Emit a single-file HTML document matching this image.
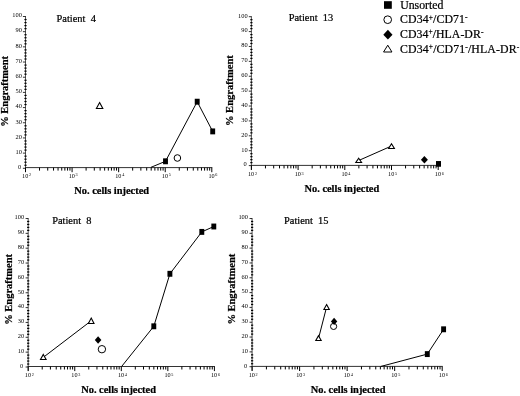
<!DOCTYPE html>
<html><head><meta charset="utf-8"><style>
html,body{margin:0;padding:0;background:#fff;width:520px;height:396px;overflow:hidden}
svg{display:block;filter:blur(0.3px)}
text{font-family:"Liberation Serif", serif;fill:#000}
.s{stroke:#000;stroke-width:0.22px}
</style></head><body>
<svg width="520" height="396" viewBox="0 0 520 396">
<rect width="520" height="396" fill="#fff"/>
<line x1="25.5" y1="16" x2="25.5" y2="171.8" stroke="#555" stroke-width="1"/>
<line x1="25" y1="167.6" x2="212.3" y2="167.6" stroke="#333" stroke-width="1"/>
<line x1="22.9" y1="168.3" x2="25.5" y2="168.3" stroke="#000" stroke-width="0.8"/>
<text x="21.1" y="169.1" text-anchor="end" font-size="6.4">0</text>
<line x1="24.4" y1="165.26" x2="26.6" y2="165.26" stroke="#000" stroke-width="1.2"/>
<line x1="24.4" y1="162.23" x2="26.6" y2="162.23" stroke="#000" stroke-width="1.2"/>
<line x1="24.4" y1="159.19" x2="26.6" y2="159.19" stroke="#000" stroke-width="1.2"/>
<line x1="24.4" y1="156.16" x2="26.6" y2="156.16" stroke="#000" stroke-width="1.2"/>
<line x1="22.9" y1="153.12" x2="25.5" y2="153.12" stroke="#000" stroke-width="0.8"/>
<text x="21.9" y="153.92" text-anchor="end" font-size="6.4">10</text>
<line x1="24.4" y1="150.08" x2="26.6" y2="150.08" stroke="#000" stroke-width="1.2"/>
<line x1="24.4" y1="147.05" x2="26.6" y2="147.05" stroke="#000" stroke-width="1.2"/>
<line x1="24.4" y1="144.01" x2="26.6" y2="144.01" stroke="#000" stroke-width="1.2"/>
<line x1="24.4" y1="140.98" x2="26.6" y2="140.98" stroke="#000" stroke-width="1.2"/>
<line x1="22.9" y1="137.94" x2="25.5" y2="137.94" stroke="#000" stroke-width="0.8"/>
<text x="21.9" y="138.74" text-anchor="end" font-size="6.4">20</text>
<line x1="24.4" y1="134.9" x2="26.6" y2="134.9" stroke="#000" stroke-width="1.2"/>
<line x1="24.4" y1="131.87" x2="26.6" y2="131.87" stroke="#000" stroke-width="1.2"/>
<line x1="24.4" y1="128.83" x2="26.6" y2="128.83" stroke="#000" stroke-width="1.2"/>
<line x1="24.4" y1="125.8" x2="26.6" y2="125.8" stroke="#000" stroke-width="1.2"/>
<line x1="22.9" y1="122.76" x2="25.5" y2="122.76" stroke="#000" stroke-width="0.8"/>
<text x="21.9" y="123.56" text-anchor="end" font-size="6.4">30</text>
<line x1="24.4" y1="119.72" x2="26.6" y2="119.72" stroke="#000" stroke-width="1.2"/>
<line x1="24.4" y1="116.69" x2="26.6" y2="116.69" stroke="#000" stroke-width="1.2"/>
<line x1="24.4" y1="113.65" x2="26.6" y2="113.65" stroke="#000" stroke-width="1.2"/>
<line x1="24.4" y1="110.62" x2="26.6" y2="110.62" stroke="#000" stroke-width="1.2"/>
<line x1="22.9" y1="107.58" x2="25.5" y2="107.58" stroke="#000" stroke-width="0.8"/>
<text x="21.9" y="108.38" text-anchor="end" font-size="6.4">40</text>
<line x1="24.4" y1="104.54" x2="26.6" y2="104.54" stroke="#000" stroke-width="1.2"/>
<line x1="24.4" y1="101.51" x2="26.6" y2="101.51" stroke="#000" stroke-width="1.2"/>
<line x1="24.4" y1="98.47" x2="26.6" y2="98.47" stroke="#000" stroke-width="1.2"/>
<line x1="24.4" y1="95.44" x2="26.6" y2="95.44" stroke="#000" stroke-width="1.2"/>
<line x1="22.9" y1="92.4" x2="25.5" y2="92.4" stroke="#000" stroke-width="0.8"/>
<text x="21.9" y="93.2" text-anchor="end" font-size="6.4">50</text>
<line x1="24.4" y1="89.36" x2="26.6" y2="89.36" stroke="#000" stroke-width="1.2"/>
<line x1="24.4" y1="86.33" x2="26.6" y2="86.33" stroke="#000" stroke-width="1.2"/>
<line x1="24.4" y1="83.29" x2="26.6" y2="83.29" stroke="#000" stroke-width="1.2"/>
<line x1="24.4" y1="80.26" x2="26.6" y2="80.26" stroke="#000" stroke-width="1.2"/>
<line x1="22.9" y1="77.22" x2="25.5" y2="77.22" stroke="#000" stroke-width="0.8"/>
<text x="21.9" y="78.02" text-anchor="end" font-size="6.4">60</text>
<line x1="24.4" y1="74.18" x2="26.6" y2="74.18" stroke="#000" stroke-width="1.2"/>
<line x1="24.4" y1="71.15" x2="26.6" y2="71.15" stroke="#000" stroke-width="1.2"/>
<line x1="24.4" y1="68.11" x2="26.6" y2="68.11" stroke="#000" stroke-width="1.2"/>
<line x1="24.4" y1="65.08" x2="26.6" y2="65.08" stroke="#000" stroke-width="1.2"/>
<line x1="22.9" y1="62.04" x2="25.5" y2="62.04" stroke="#000" stroke-width="0.8"/>
<text x="21.9" y="62.84" text-anchor="end" font-size="6.4">70</text>
<line x1="24.4" y1="59" x2="26.6" y2="59" stroke="#000" stroke-width="1.2"/>
<line x1="24.4" y1="55.97" x2="26.6" y2="55.97" stroke="#000" stroke-width="1.2"/>
<line x1="24.4" y1="52.93" x2="26.6" y2="52.93" stroke="#000" stroke-width="1.2"/>
<line x1="24.4" y1="49.9" x2="26.6" y2="49.9" stroke="#000" stroke-width="1.2"/>
<line x1="22.9" y1="46.86" x2="25.5" y2="46.86" stroke="#000" stroke-width="0.8"/>
<text x="21.9" y="47.66" text-anchor="end" font-size="6.4">80</text>
<line x1="24.4" y1="43.82" x2="26.6" y2="43.82" stroke="#000" stroke-width="1.2"/>
<line x1="24.4" y1="40.79" x2="26.6" y2="40.79" stroke="#000" stroke-width="1.2"/>
<line x1="24.4" y1="37.75" x2="26.6" y2="37.75" stroke="#000" stroke-width="1.2"/>
<line x1="24.4" y1="34.72" x2="26.6" y2="34.72" stroke="#000" stroke-width="1.2"/>
<line x1="22.9" y1="31.68" x2="25.5" y2="31.68" stroke="#000" stroke-width="0.8"/>
<text x="21.9" y="32.48" text-anchor="end" font-size="6.4">90</text>
<line x1="24.4" y1="28.64" x2="26.6" y2="28.64" stroke="#000" stroke-width="1.2"/>
<line x1="24.4" y1="25.61" x2="26.6" y2="25.61" stroke="#000" stroke-width="1.2"/>
<line x1="24.4" y1="22.57" x2="26.6" y2="22.57" stroke="#000" stroke-width="1.2"/>
<line x1="24.4" y1="19.54" x2="26.6" y2="19.54" stroke="#000" stroke-width="1.2"/>
<line x1="22.9" y1="16.5" x2="25.5" y2="16.5" stroke="#000" stroke-width="0.8"/>
<text x="21.9" y="17.3" text-anchor="end" font-size="6.4">100</text>
<line x1="39.52" y1="167.6" x2="39.52" y2="170.6" stroke="#000" stroke-width="1"/>
<line x1="47.72" y1="167.6" x2="47.72" y2="170.6" stroke="#000" stroke-width="1"/>
<line x1="53.54" y1="167.6" x2="53.54" y2="170.6" stroke="#000" stroke-width="1"/>
<line x1="58.05" y1="167.6" x2="58.05" y2="170.6" stroke="#000" stroke-width="1"/>
<line x1="61.74" y1="167.6" x2="61.74" y2="170.6" stroke="#000" stroke-width="1"/>
<line x1="64.86" y1="167.6" x2="64.86" y2="170.6" stroke="#000" stroke-width="1"/>
<line x1="67.56" y1="167.6" x2="67.56" y2="170.6" stroke="#000" stroke-width="1"/>
<line x1="69.94" y1="167.6" x2="69.94" y2="170.6" stroke="#000" stroke-width="1"/>
<line x1="86.1" y1="167.6" x2="86.1" y2="170.6" stroke="#000" stroke-width="1"/>
<line x1="94.3" y1="167.6" x2="94.3" y2="170.6" stroke="#000" stroke-width="1"/>
<line x1="100.12" y1="167.6" x2="100.12" y2="170.6" stroke="#000" stroke-width="1"/>
<line x1="104.63" y1="167.6" x2="104.63" y2="170.6" stroke="#000" stroke-width="1"/>
<line x1="108.32" y1="167.6" x2="108.32" y2="170.6" stroke="#000" stroke-width="1"/>
<line x1="111.44" y1="167.6" x2="111.44" y2="170.6" stroke="#000" stroke-width="1"/>
<line x1="114.14" y1="167.6" x2="114.14" y2="170.6" stroke="#000" stroke-width="1"/>
<line x1="116.52" y1="167.6" x2="116.52" y2="170.6" stroke="#000" stroke-width="1"/>
<line x1="132.67" y1="167.6" x2="132.67" y2="170.6" stroke="#000" stroke-width="1"/>
<line x1="140.87" y1="167.6" x2="140.87" y2="170.6" stroke="#000" stroke-width="1"/>
<line x1="146.69" y1="167.6" x2="146.69" y2="170.6" stroke="#000" stroke-width="1"/>
<line x1="151.2" y1="167.6" x2="151.2" y2="170.6" stroke="#000" stroke-width="1"/>
<line x1="154.89" y1="167.6" x2="154.89" y2="170.6" stroke="#000" stroke-width="1"/>
<line x1="158.01" y1="167.6" x2="158.01" y2="170.6" stroke="#000" stroke-width="1"/>
<line x1="160.71" y1="167.6" x2="160.71" y2="170.6" stroke="#000" stroke-width="1"/>
<line x1="163.09" y1="167.6" x2="163.09" y2="170.6" stroke="#000" stroke-width="1"/>
<line x1="179.25" y1="167.6" x2="179.25" y2="170.6" stroke="#000" stroke-width="1"/>
<line x1="187.45" y1="167.6" x2="187.45" y2="170.6" stroke="#000" stroke-width="1"/>
<line x1="193.27" y1="167.6" x2="193.27" y2="170.6" stroke="#000" stroke-width="1"/>
<line x1="197.78" y1="167.6" x2="197.78" y2="170.6" stroke="#000" stroke-width="1"/>
<line x1="201.47" y1="167.6" x2="201.47" y2="170.6" stroke="#000" stroke-width="1"/>
<line x1="204.59" y1="167.6" x2="204.59" y2="170.6" stroke="#000" stroke-width="1"/>
<line x1="207.29" y1="167.6" x2="207.29" y2="170.6" stroke="#000" stroke-width="1"/>
<line x1="209.67" y1="167.6" x2="209.67" y2="170.6" stroke="#000" stroke-width="1"/>
<line x1="25.5" y1="167.6" x2="25.5" y2="172.2" stroke="#000" stroke-width="1"/>
<text x="25.2" y="177.8" text-anchor="middle" font-size="6.2">10</text>
<text x="29" y="176.3" font-size="4.2">2</text>
<line x1="72.08" y1="167.6" x2="72.08" y2="172.2" stroke="#000" stroke-width="1"/>
<text x="71.78" y="177.8" text-anchor="middle" font-size="6.2">10</text>
<text x="75.58" y="176.3" font-size="4.2">3</text>
<line x1="118.65" y1="167.6" x2="118.65" y2="172.2" stroke="#000" stroke-width="1"/>
<text x="118.35" y="177.8" text-anchor="middle" font-size="6.2">10</text>
<text x="122.15" y="176.3" font-size="4.2">4</text>
<line x1="165.23" y1="167.6" x2="165.23" y2="172.2" stroke="#000" stroke-width="1"/>
<text x="164.93" y="177.8" text-anchor="middle" font-size="6.2">10</text>
<text x="168.73" y="176.3" font-size="4.2">5</text>
<line x1="211.8" y1="167.6" x2="211.8" y2="172.2" stroke="#000" stroke-width="1"/>
<text x="211.5" y="177.8" text-anchor="middle" font-size="6.2">10</text>
<text x="215.3" y="176.3" font-size="4.2">6</text>
<text x="56.6" y="22.2" font-size="10.4" class="s" xml:space="preserve">Patient  4</text>
<text x="74.3" y="193.5" font-size="10.4" class="s" font-weight="bold">No. cells injected</text>
<text transform="translate(8.1,126.8) rotate(-90)" class="s" font-size="10.5" font-weight="bold">% Engraftment</text>
<line x1="251.4" y1="16.2" x2="251.4" y2="169.6" stroke="#555" stroke-width="1"/>
<line x1="250.9" y1="165.4" x2="438.7" y2="165.4" stroke="#333" stroke-width="1"/>
<line x1="248.8" y1="165.6" x2="251.4" y2="165.6" stroke="#000" stroke-width="0.8"/>
<text x="246.8" y="166.4" text-anchor="end" font-size="6.4">0</text>
<line x1="250.3" y1="162.62" x2="252.5" y2="162.62" stroke="#000" stroke-width="1.2"/>
<line x1="250.3" y1="159.64" x2="252.5" y2="159.64" stroke="#000" stroke-width="1.2"/>
<line x1="250.3" y1="156.67" x2="252.5" y2="156.67" stroke="#000" stroke-width="1.2"/>
<line x1="250.3" y1="153.69" x2="252.5" y2="153.69" stroke="#000" stroke-width="1.2"/>
<line x1="248.8" y1="150.71" x2="251.4" y2="150.71" stroke="#000" stroke-width="0.8"/>
<text x="247.6" y="151.51" text-anchor="end" font-size="6.4">10</text>
<line x1="250.3" y1="147.73" x2="252.5" y2="147.73" stroke="#000" stroke-width="1.2"/>
<line x1="250.3" y1="144.75" x2="252.5" y2="144.75" stroke="#000" stroke-width="1.2"/>
<line x1="250.3" y1="141.78" x2="252.5" y2="141.78" stroke="#000" stroke-width="1.2"/>
<line x1="250.3" y1="138.8" x2="252.5" y2="138.8" stroke="#000" stroke-width="1.2"/>
<line x1="248.8" y1="135.82" x2="251.4" y2="135.82" stroke="#000" stroke-width="0.8"/>
<text x="247.6" y="136.62" text-anchor="end" font-size="6.4">20</text>
<line x1="250.3" y1="132.84" x2="252.5" y2="132.84" stroke="#000" stroke-width="1.2"/>
<line x1="250.3" y1="129.86" x2="252.5" y2="129.86" stroke="#000" stroke-width="1.2"/>
<line x1="250.3" y1="126.89" x2="252.5" y2="126.89" stroke="#000" stroke-width="1.2"/>
<line x1="250.3" y1="123.91" x2="252.5" y2="123.91" stroke="#000" stroke-width="1.2"/>
<line x1="248.8" y1="120.93" x2="251.4" y2="120.93" stroke="#000" stroke-width="0.8"/>
<text x="247.6" y="121.73" text-anchor="end" font-size="6.4">30</text>
<line x1="250.3" y1="117.95" x2="252.5" y2="117.95" stroke="#000" stroke-width="1.2"/>
<line x1="250.3" y1="114.97" x2="252.5" y2="114.97" stroke="#000" stroke-width="1.2"/>
<line x1="250.3" y1="112" x2="252.5" y2="112" stroke="#000" stroke-width="1.2"/>
<line x1="250.3" y1="109.02" x2="252.5" y2="109.02" stroke="#000" stroke-width="1.2"/>
<line x1="248.8" y1="106.04" x2="251.4" y2="106.04" stroke="#000" stroke-width="0.8"/>
<text x="247.6" y="106.84" text-anchor="end" font-size="6.4">40</text>
<line x1="250.3" y1="103.06" x2="252.5" y2="103.06" stroke="#000" stroke-width="1.2"/>
<line x1="250.3" y1="100.08" x2="252.5" y2="100.08" stroke="#000" stroke-width="1.2"/>
<line x1="250.3" y1="97.11" x2="252.5" y2="97.11" stroke="#000" stroke-width="1.2"/>
<line x1="250.3" y1="94.13" x2="252.5" y2="94.13" stroke="#000" stroke-width="1.2"/>
<line x1="248.8" y1="91.15" x2="251.4" y2="91.15" stroke="#000" stroke-width="0.8"/>
<text x="247.6" y="91.95" text-anchor="end" font-size="6.4">50</text>
<line x1="250.3" y1="88.17" x2="252.5" y2="88.17" stroke="#000" stroke-width="1.2"/>
<line x1="250.3" y1="85.19" x2="252.5" y2="85.19" stroke="#000" stroke-width="1.2"/>
<line x1="250.3" y1="82.22" x2="252.5" y2="82.22" stroke="#000" stroke-width="1.2"/>
<line x1="250.3" y1="79.24" x2="252.5" y2="79.24" stroke="#000" stroke-width="1.2"/>
<line x1="248.8" y1="76.26" x2="251.4" y2="76.26" stroke="#000" stroke-width="0.8"/>
<text x="247.6" y="77.06" text-anchor="end" font-size="6.4">60</text>
<line x1="250.3" y1="73.28" x2="252.5" y2="73.28" stroke="#000" stroke-width="1.2"/>
<line x1="250.3" y1="70.3" x2="252.5" y2="70.3" stroke="#000" stroke-width="1.2"/>
<line x1="250.3" y1="67.33" x2="252.5" y2="67.33" stroke="#000" stroke-width="1.2"/>
<line x1="250.3" y1="64.35" x2="252.5" y2="64.35" stroke="#000" stroke-width="1.2"/>
<line x1="248.8" y1="61.37" x2="251.4" y2="61.37" stroke="#000" stroke-width="0.8"/>
<text x="247.6" y="62.17" text-anchor="end" font-size="6.4">70</text>
<line x1="250.3" y1="58.39" x2="252.5" y2="58.39" stroke="#000" stroke-width="1.2"/>
<line x1="250.3" y1="55.41" x2="252.5" y2="55.41" stroke="#000" stroke-width="1.2"/>
<line x1="250.3" y1="52.44" x2="252.5" y2="52.44" stroke="#000" stroke-width="1.2"/>
<line x1="250.3" y1="49.46" x2="252.5" y2="49.46" stroke="#000" stroke-width="1.2"/>
<line x1="248.8" y1="46.48" x2="251.4" y2="46.48" stroke="#000" stroke-width="0.8"/>
<text x="247.6" y="47.28" text-anchor="end" font-size="6.4">80</text>
<line x1="250.3" y1="43.5" x2="252.5" y2="43.5" stroke="#000" stroke-width="1.2"/>
<line x1="250.3" y1="40.52" x2="252.5" y2="40.52" stroke="#000" stroke-width="1.2"/>
<line x1="250.3" y1="37.55" x2="252.5" y2="37.55" stroke="#000" stroke-width="1.2"/>
<line x1="250.3" y1="34.57" x2="252.5" y2="34.57" stroke="#000" stroke-width="1.2"/>
<line x1="248.8" y1="31.59" x2="251.4" y2="31.59" stroke="#000" stroke-width="0.8"/>
<text x="247.6" y="32.39" text-anchor="end" font-size="6.4">90</text>
<line x1="250.3" y1="28.61" x2="252.5" y2="28.61" stroke="#000" stroke-width="1.2"/>
<line x1="250.3" y1="25.63" x2="252.5" y2="25.63" stroke="#000" stroke-width="1.2"/>
<line x1="250.3" y1="22.66" x2="252.5" y2="22.66" stroke="#000" stroke-width="1.2"/>
<line x1="250.3" y1="19.68" x2="252.5" y2="19.68" stroke="#000" stroke-width="1.2"/>
<line x1="248.8" y1="16.7" x2="251.4" y2="16.7" stroke="#000" stroke-width="0.8"/>
<text x="247.6" y="17.5" text-anchor="end" font-size="6.4">100</text>
<line x1="265.46" y1="165.4" x2="265.46" y2="168.4" stroke="#000" stroke-width="1"/>
<line x1="273.68" y1="165.4" x2="273.68" y2="168.4" stroke="#000" stroke-width="1"/>
<line x1="279.52" y1="165.4" x2="279.52" y2="168.4" stroke="#000" stroke-width="1"/>
<line x1="284.04" y1="165.4" x2="284.04" y2="168.4" stroke="#000" stroke-width="1"/>
<line x1="287.74" y1="165.4" x2="287.74" y2="168.4" stroke="#000" stroke-width="1"/>
<line x1="290.87" y1="165.4" x2="290.87" y2="168.4" stroke="#000" stroke-width="1"/>
<line x1="293.57" y1="165.4" x2="293.57" y2="168.4" stroke="#000" stroke-width="1"/>
<line x1="295.96" y1="165.4" x2="295.96" y2="168.4" stroke="#000" stroke-width="1"/>
<line x1="312.16" y1="165.4" x2="312.16" y2="168.4" stroke="#000" stroke-width="1"/>
<line x1="320.38" y1="165.4" x2="320.38" y2="168.4" stroke="#000" stroke-width="1"/>
<line x1="326.22" y1="165.4" x2="326.22" y2="168.4" stroke="#000" stroke-width="1"/>
<line x1="330.74" y1="165.4" x2="330.74" y2="168.4" stroke="#000" stroke-width="1"/>
<line x1="334.44" y1="165.4" x2="334.44" y2="168.4" stroke="#000" stroke-width="1"/>
<line x1="337.57" y1="165.4" x2="337.57" y2="168.4" stroke="#000" stroke-width="1"/>
<line x1="340.27" y1="165.4" x2="340.27" y2="168.4" stroke="#000" stroke-width="1"/>
<line x1="342.66" y1="165.4" x2="342.66" y2="168.4" stroke="#000" stroke-width="1"/>
<line x1="358.86" y1="165.4" x2="358.86" y2="168.4" stroke="#000" stroke-width="1"/>
<line x1="367.08" y1="165.4" x2="367.08" y2="168.4" stroke="#000" stroke-width="1"/>
<line x1="372.92" y1="165.4" x2="372.92" y2="168.4" stroke="#000" stroke-width="1"/>
<line x1="377.44" y1="165.4" x2="377.44" y2="168.4" stroke="#000" stroke-width="1"/>
<line x1="381.14" y1="165.4" x2="381.14" y2="168.4" stroke="#000" stroke-width="1"/>
<line x1="384.27" y1="165.4" x2="384.27" y2="168.4" stroke="#000" stroke-width="1"/>
<line x1="386.97" y1="165.4" x2="386.97" y2="168.4" stroke="#000" stroke-width="1"/>
<line x1="389.36" y1="165.4" x2="389.36" y2="168.4" stroke="#000" stroke-width="1"/>
<line x1="405.56" y1="165.4" x2="405.56" y2="168.4" stroke="#000" stroke-width="1"/>
<line x1="413.78" y1="165.4" x2="413.78" y2="168.4" stroke="#000" stroke-width="1"/>
<line x1="419.62" y1="165.4" x2="419.62" y2="168.4" stroke="#000" stroke-width="1"/>
<line x1="424.14" y1="165.4" x2="424.14" y2="168.4" stroke="#000" stroke-width="1"/>
<line x1="427.84" y1="165.4" x2="427.84" y2="168.4" stroke="#000" stroke-width="1"/>
<line x1="430.97" y1="165.4" x2="430.97" y2="168.4" stroke="#000" stroke-width="1"/>
<line x1="433.67" y1="165.4" x2="433.67" y2="168.4" stroke="#000" stroke-width="1"/>
<line x1="436.06" y1="165.4" x2="436.06" y2="168.4" stroke="#000" stroke-width="1"/>
<line x1="251.4" y1="165.4" x2="251.4" y2="170" stroke="#000" stroke-width="1"/>
<text x="251.1" y="176.3" text-anchor="middle" font-size="6.2">10</text>
<text x="254.9" y="174.8" font-size="4.2">2</text>
<line x1="298.1" y1="165.4" x2="298.1" y2="170" stroke="#000" stroke-width="1"/>
<text x="297.8" y="176.3" text-anchor="middle" font-size="6.2">10</text>
<text x="301.6" y="174.8" font-size="4.2">3</text>
<line x1="344.8" y1="165.4" x2="344.8" y2="170" stroke="#000" stroke-width="1"/>
<text x="344.5" y="176.3" text-anchor="middle" font-size="6.2">10</text>
<text x="348.3" y="174.8" font-size="4.2">4</text>
<line x1="391.5" y1="165.4" x2="391.5" y2="170" stroke="#000" stroke-width="1"/>
<text x="391.2" y="176.3" text-anchor="middle" font-size="6.2">10</text>
<text x="395" y="174.8" font-size="4.2">5</text>
<line x1="438.2" y1="165.4" x2="438.2" y2="170" stroke="#000" stroke-width="1"/>
<text x="437.9" y="176.3" text-anchor="middle" font-size="6.2">10</text>
<text x="441.7" y="174.8" font-size="4.2">6</text>
<text x="288.7" y="20.9" font-size="10.4" class="s" xml:space="preserve">Patient  13</text>
<text x="304.5" y="192.2" font-size="10.4" class="s" font-weight="bold">No. cells injected</text>
<text transform="translate(232.7,126) rotate(-90)" class="s" font-size="10.5" font-weight="bold">% Engraftment</text>
<line x1="28.2" y1="218" x2="28.2" y2="370.7" stroke="#555" stroke-width="1"/>
<line x1="27.7" y1="366.5" x2="214.9" y2="366.5" stroke="#333" stroke-width="1"/>
<line x1="25.6" y1="367" x2="28.2" y2="367" stroke="#000" stroke-width="0.8"/>
<text x="23.3" y="367.8" text-anchor="end" font-size="6.4">0</text>
<line x1="27.1" y1="364.03" x2="29.3" y2="364.03" stroke="#000" stroke-width="1.2"/>
<line x1="27.1" y1="361.06" x2="29.3" y2="361.06" stroke="#000" stroke-width="1.2"/>
<line x1="27.1" y1="358.09" x2="29.3" y2="358.09" stroke="#000" stroke-width="1.2"/>
<line x1="27.1" y1="355.12" x2="29.3" y2="355.12" stroke="#000" stroke-width="1.2"/>
<line x1="25.6" y1="352.15" x2="28.2" y2="352.15" stroke="#000" stroke-width="0.8"/>
<text x="24.1" y="352.95" text-anchor="end" font-size="6.4">10</text>
<line x1="27.1" y1="349.18" x2="29.3" y2="349.18" stroke="#000" stroke-width="1.2"/>
<line x1="27.1" y1="346.21" x2="29.3" y2="346.21" stroke="#000" stroke-width="1.2"/>
<line x1="27.1" y1="343.24" x2="29.3" y2="343.24" stroke="#000" stroke-width="1.2"/>
<line x1="27.1" y1="340.27" x2="29.3" y2="340.27" stroke="#000" stroke-width="1.2"/>
<line x1="25.6" y1="337.3" x2="28.2" y2="337.3" stroke="#000" stroke-width="0.8"/>
<text x="24.1" y="338.1" text-anchor="end" font-size="6.4">20</text>
<line x1="27.1" y1="334.33" x2="29.3" y2="334.33" stroke="#000" stroke-width="1.2"/>
<line x1="27.1" y1="331.36" x2="29.3" y2="331.36" stroke="#000" stroke-width="1.2"/>
<line x1="27.1" y1="328.39" x2="29.3" y2="328.39" stroke="#000" stroke-width="1.2"/>
<line x1="27.1" y1="325.42" x2="29.3" y2="325.42" stroke="#000" stroke-width="1.2"/>
<line x1="25.6" y1="322.45" x2="28.2" y2="322.45" stroke="#000" stroke-width="0.8"/>
<text x="24.1" y="323.25" text-anchor="end" font-size="6.4">30</text>
<line x1="27.1" y1="319.48" x2="29.3" y2="319.48" stroke="#000" stroke-width="1.2"/>
<line x1="27.1" y1="316.51" x2="29.3" y2="316.51" stroke="#000" stroke-width="1.2"/>
<line x1="27.1" y1="313.54" x2="29.3" y2="313.54" stroke="#000" stroke-width="1.2"/>
<line x1="27.1" y1="310.57" x2="29.3" y2="310.57" stroke="#000" stroke-width="1.2"/>
<line x1="25.6" y1="307.6" x2="28.2" y2="307.6" stroke="#000" stroke-width="0.8"/>
<text x="24.1" y="308.4" text-anchor="end" font-size="6.4">40</text>
<line x1="27.1" y1="304.63" x2="29.3" y2="304.63" stroke="#000" stroke-width="1.2"/>
<line x1="27.1" y1="301.66" x2="29.3" y2="301.66" stroke="#000" stroke-width="1.2"/>
<line x1="27.1" y1="298.69" x2="29.3" y2="298.69" stroke="#000" stroke-width="1.2"/>
<line x1="27.1" y1="295.72" x2="29.3" y2="295.72" stroke="#000" stroke-width="1.2"/>
<line x1="25.6" y1="292.75" x2="28.2" y2="292.75" stroke="#000" stroke-width="0.8"/>
<text x="24.1" y="293.55" text-anchor="end" font-size="6.4">50</text>
<line x1="27.1" y1="289.78" x2="29.3" y2="289.78" stroke="#000" stroke-width="1.2"/>
<line x1="27.1" y1="286.81" x2="29.3" y2="286.81" stroke="#000" stroke-width="1.2"/>
<line x1="27.1" y1="283.84" x2="29.3" y2="283.84" stroke="#000" stroke-width="1.2"/>
<line x1="27.1" y1="280.87" x2="29.3" y2="280.87" stroke="#000" stroke-width="1.2"/>
<line x1="25.6" y1="277.9" x2="28.2" y2="277.9" stroke="#000" stroke-width="0.8"/>
<text x="24.1" y="278.7" text-anchor="end" font-size="6.4">60</text>
<line x1="27.1" y1="274.93" x2="29.3" y2="274.93" stroke="#000" stroke-width="1.2"/>
<line x1="27.1" y1="271.96" x2="29.3" y2="271.96" stroke="#000" stroke-width="1.2"/>
<line x1="27.1" y1="268.99" x2="29.3" y2="268.99" stroke="#000" stroke-width="1.2"/>
<line x1="27.1" y1="266.02" x2="29.3" y2="266.02" stroke="#000" stroke-width="1.2"/>
<line x1="25.6" y1="263.05" x2="28.2" y2="263.05" stroke="#000" stroke-width="0.8"/>
<text x="24.1" y="263.85" text-anchor="end" font-size="6.4">70</text>
<line x1="27.1" y1="260.08" x2="29.3" y2="260.08" stroke="#000" stroke-width="1.2"/>
<line x1="27.1" y1="257.11" x2="29.3" y2="257.11" stroke="#000" stroke-width="1.2"/>
<line x1="27.1" y1="254.14" x2="29.3" y2="254.14" stroke="#000" stroke-width="1.2"/>
<line x1="27.1" y1="251.17" x2="29.3" y2="251.17" stroke="#000" stroke-width="1.2"/>
<line x1="25.6" y1="248.2" x2="28.2" y2="248.2" stroke="#000" stroke-width="0.8"/>
<text x="24.1" y="249" text-anchor="end" font-size="6.4">80</text>
<line x1="27.1" y1="245.23" x2="29.3" y2="245.23" stroke="#000" stroke-width="1.2"/>
<line x1="27.1" y1="242.26" x2="29.3" y2="242.26" stroke="#000" stroke-width="1.2"/>
<line x1="27.1" y1="239.29" x2="29.3" y2="239.29" stroke="#000" stroke-width="1.2"/>
<line x1="27.1" y1="236.32" x2="29.3" y2="236.32" stroke="#000" stroke-width="1.2"/>
<line x1="25.6" y1="233.35" x2="28.2" y2="233.35" stroke="#000" stroke-width="0.8"/>
<text x="24.1" y="234.15" text-anchor="end" font-size="6.4">90</text>
<line x1="27.1" y1="230.38" x2="29.3" y2="230.38" stroke="#000" stroke-width="1.2"/>
<line x1="27.1" y1="227.41" x2="29.3" y2="227.41" stroke="#000" stroke-width="1.2"/>
<line x1="27.1" y1="224.44" x2="29.3" y2="224.44" stroke="#000" stroke-width="1.2"/>
<line x1="27.1" y1="221.47" x2="29.3" y2="221.47" stroke="#000" stroke-width="1.2"/>
<line x1="25.6" y1="218.5" x2="28.2" y2="218.5" stroke="#000" stroke-width="0.8"/>
<text x="24.1" y="219.3" text-anchor="end" font-size="6.4">100</text>
<line x1="42.21" y1="366.5" x2="42.21" y2="369.5" stroke="#000" stroke-width="1"/>
<line x1="50.41" y1="366.5" x2="50.41" y2="369.5" stroke="#000" stroke-width="1"/>
<line x1="56.23" y1="366.5" x2="56.23" y2="369.5" stroke="#000" stroke-width="1"/>
<line x1="60.74" y1="366.5" x2="60.74" y2="369.5" stroke="#000" stroke-width="1"/>
<line x1="64.42" y1="366.5" x2="64.42" y2="369.5" stroke="#000" stroke-width="1"/>
<line x1="67.54" y1="366.5" x2="67.54" y2="369.5" stroke="#000" stroke-width="1"/>
<line x1="70.24" y1="366.5" x2="70.24" y2="369.5" stroke="#000" stroke-width="1"/>
<line x1="72.62" y1="366.5" x2="72.62" y2="369.5" stroke="#000" stroke-width="1"/>
<line x1="88.76" y1="366.5" x2="88.76" y2="369.5" stroke="#000" stroke-width="1"/>
<line x1="96.96" y1="366.5" x2="96.96" y2="369.5" stroke="#000" stroke-width="1"/>
<line x1="102.78" y1="366.5" x2="102.78" y2="369.5" stroke="#000" stroke-width="1"/>
<line x1="107.29" y1="366.5" x2="107.29" y2="369.5" stroke="#000" stroke-width="1"/>
<line x1="110.97" y1="366.5" x2="110.97" y2="369.5" stroke="#000" stroke-width="1"/>
<line x1="114.09" y1="366.5" x2="114.09" y2="369.5" stroke="#000" stroke-width="1"/>
<line x1="116.79" y1="366.5" x2="116.79" y2="369.5" stroke="#000" stroke-width="1"/>
<line x1="119.17" y1="366.5" x2="119.17" y2="369.5" stroke="#000" stroke-width="1"/>
<line x1="135.31" y1="366.5" x2="135.31" y2="369.5" stroke="#000" stroke-width="1"/>
<line x1="143.51" y1="366.5" x2="143.51" y2="369.5" stroke="#000" stroke-width="1"/>
<line x1="149.33" y1="366.5" x2="149.33" y2="369.5" stroke="#000" stroke-width="1"/>
<line x1="153.84" y1="366.5" x2="153.84" y2="369.5" stroke="#000" stroke-width="1"/>
<line x1="157.52" y1="366.5" x2="157.52" y2="369.5" stroke="#000" stroke-width="1"/>
<line x1="160.64" y1="366.5" x2="160.64" y2="369.5" stroke="#000" stroke-width="1"/>
<line x1="163.34" y1="366.5" x2="163.34" y2="369.5" stroke="#000" stroke-width="1"/>
<line x1="165.72" y1="366.5" x2="165.72" y2="369.5" stroke="#000" stroke-width="1"/>
<line x1="181.86" y1="366.5" x2="181.86" y2="369.5" stroke="#000" stroke-width="1"/>
<line x1="190.06" y1="366.5" x2="190.06" y2="369.5" stroke="#000" stroke-width="1"/>
<line x1="195.88" y1="366.5" x2="195.88" y2="369.5" stroke="#000" stroke-width="1"/>
<line x1="200.39" y1="366.5" x2="200.39" y2="369.5" stroke="#000" stroke-width="1"/>
<line x1="204.07" y1="366.5" x2="204.07" y2="369.5" stroke="#000" stroke-width="1"/>
<line x1="207.19" y1="366.5" x2="207.19" y2="369.5" stroke="#000" stroke-width="1"/>
<line x1="209.89" y1="366.5" x2="209.89" y2="369.5" stroke="#000" stroke-width="1"/>
<line x1="212.27" y1="366.5" x2="212.27" y2="369.5" stroke="#000" stroke-width="1"/>
<line x1="28.2" y1="366.5" x2="28.2" y2="371.1" stroke="#000" stroke-width="1"/>
<text x="27.9" y="377.4" text-anchor="middle" font-size="6.2">10</text>
<text x="31.7" y="375.9" font-size="4.2">2</text>
<line x1="74.75" y1="366.5" x2="74.75" y2="371.1" stroke="#000" stroke-width="1"/>
<text x="74.45" y="377.4" text-anchor="middle" font-size="6.2">10</text>
<text x="78.25" y="375.9" font-size="4.2">3</text>
<line x1="121.3" y1="366.5" x2="121.3" y2="371.1" stroke="#000" stroke-width="1"/>
<text x="121" y="377.4" text-anchor="middle" font-size="6.2">10</text>
<text x="124.8" y="375.9" font-size="4.2">4</text>
<line x1="167.85" y1="366.5" x2="167.85" y2="371.1" stroke="#000" stroke-width="1"/>
<text x="167.55" y="377.4" text-anchor="middle" font-size="6.2">10</text>
<text x="171.35" y="375.9" font-size="4.2">5</text>
<line x1="214.4" y1="366.5" x2="214.4" y2="371.1" stroke="#000" stroke-width="1"/>
<text x="214.1" y="377.4" text-anchor="middle" font-size="6.2">10</text>
<text x="217.9" y="375.9" font-size="4.2">6</text>
<text x="52.2" y="224.2" font-size="10.4" class="s" xml:space="preserve">Patient  8</text>
<text x="81.2" y="392.7" font-size="10.4" class="s" font-weight="bold">No. cells injected</text>
<text transform="translate(11.5,324.8) rotate(-90)" class="s" font-size="10.5" font-weight="bold">% Engraftment</text>
<line x1="252.1" y1="218" x2="252.1" y2="370.6" stroke="#555" stroke-width="1"/>
<line x1="251.6" y1="366.4" x2="442.7" y2="366.4" stroke="#333" stroke-width="1"/>
<line x1="249.5" y1="366.7" x2="252.1" y2="366.7" stroke="#000" stroke-width="0.8"/>
<text x="247.2" y="367.5" text-anchor="end" font-size="6.4">0</text>
<line x1="251" y1="363.74" x2="253.2" y2="363.74" stroke="#000" stroke-width="1.2"/>
<line x1="251" y1="360.77" x2="253.2" y2="360.77" stroke="#000" stroke-width="1.2"/>
<line x1="251" y1="357.81" x2="253.2" y2="357.81" stroke="#000" stroke-width="1.2"/>
<line x1="251" y1="354.84" x2="253.2" y2="354.84" stroke="#000" stroke-width="1.2"/>
<line x1="249.5" y1="351.88" x2="252.1" y2="351.88" stroke="#000" stroke-width="0.8"/>
<text x="248" y="352.68" text-anchor="end" font-size="6.4">10</text>
<line x1="251" y1="348.92" x2="253.2" y2="348.92" stroke="#000" stroke-width="1.2"/>
<line x1="251" y1="345.95" x2="253.2" y2="345.95" stroke="#000" stroke-width="1.2"/>
<line x1="251" y1="342.99" x2="253.2" y2="342.99" stroke="#000" stroke-width="1.2"/>
<line x1="251" y1="340.02" x2="253.2" y2="340.02" stroke="#000" stroke-width="1.2"/>
<line x1="249.5" y1="337.06" x2="252.1" y2="337.06" stroke="#000" stroke-width="0.8"/>
<text x="248" y="337.86" text-anchor="end" font-size="6.4">20</text>
<line x1="251" y1="334.1" x2="253.2" y2="334.1" stroke="#000" stroke-width="1.2"/>
<line x1="251" y1="331.13" x2="253.2" y2="331.13" stroke="#000" stroke-width="1.2"/>
<line x1="251" y1="328.17" x2="253.2" y2="328.17" stroke="#000" stroke-width="1.2"/>
<line x1="251" y1="325.2" x2="253.2" y2="325.2" stroke="#000" stroke-width="1.2"/>
<line x1="249.5" y1="322.24" x2="252.1" y2="322.24" stroke="#000" stroke-width="0.8"/>
<text x="248" y="323.04" text-anchor="end" font-size="6.4">30</text>
<line x1="251" y1="319.28" x2="253.2" y2="319.28" stroke="#000" stroke-width="1.2"/>
<line x1="251" y1="316.31" x2="253.2" y2="316.31" stroke="#000" stroke-width="1.2"/>
<line x1="251" y1="313.35" x2="253.2" y2="313.35" stroke="#000" stroke-width="1.2"/>
<line x1="251" y1="310.38" x2="253.2" y2="310.38" stroke="#000" stroke-width="1.2"/>
<line x1="249.5" y1="307.42" x2="252.1" y2="307.42" stroke="#000" stroke-width="0.8"/>
<text x="248" y="308.22" text-anchor="end" font-size="6.4">40</text>
<line x1="251" y1="304.46" x2="253.2" y2="304.46" stroke="#000" stroke-width="1.2"/>
<line x1="251" y1="301.49" x2="253.2" y2="301.49" stroke="#000" stroke-width="1.2"/>
<line x1="251" y1="298.53" x2="253.2" y2="298.53" stroke="#000" stroke-width="1.2"/>
<line x1="251" y1="295.56" x2="253.2" y2="295.56" stroke="#000" stroke-width="1.2"/>
<line x1="249.5" y1="292.6" x2="252.1" y2="292.6" stroke="#000" stroke-width="0.8"/>
<text x="248" y="293.4" text-anchor="end" font-size="6.4">50</text>
<line x1="251" y1="289.64" x2="253.2" y2="289.64" stroke="#000" stroke-width="1.2"/>
<line x1="251" y1="286.67" x2="253.2" y2="286.67" stroke="#000" stroke-width="1.2"/>
<line x1="251" y1="283.71" x2="253.2" y2="283.71" stroke="#000" stroke-width="1.2"/>
<line x1="251" y1="280.74" x2="253.2" y2="280.74" stroke="#000" stroke-width="1.2"/>
<line x1="249.5" y1="277.78" x2="252.1" y2="277.78" stroke="#000" stroke-width="0.8"/>
<text x="248" y="278.58" text-anchor="end" font-size="6.4">60</text>
<line x1="251" y1="274.82" x2="253.2" y2="274.82" stroke="#000" stroke-width="1.2"/>
<line x1="251" y1="271.85" x2="253.2" y2="271.85" stroke="#000" stroke-width="1.2"/>
<line x1="251" y1="268.89" x2="253.2" y2="268.89" stroke="#000" stroke-width="1.2"/>
<line x1="251" y1="265.92" x2="253.2" y2="265.92" stroke="#000" stroke-width="1.2"/>
<line x1="249.5" y1="262.96" x2="252.1" y2="262.96" stroke="#000" stroke-width="0.8"/>
<text x="248" y="263.76" text-anchor="end" font-size="6.4">70</text>
<line x1="251" y1="260" x2="253.2" y2="260" stroke="#000" stroke-width="1.2"/>
<line x1="251" y1="257.03" x2="253.2" y2="257.03" stroke="#000" stroke-width="1.2"/>
<line x1="251" y1="254.07" x2="253.2" y2="254.07" stroke="#000" stroke-width="1.2"/>
<line x1="251" y1="251.1" x2="253.2" y2="251.1" stroke="#000" stroke-width="1.2"/>
<line x1="249.5" y1="248.14" x2="252.1" y2="248.14" stroke="#000" stroke-width="0.8"/>
<text x="248" y="248.94" text-anchor="end" font-size="6.4">80</text>
<line x1="251" y1="245.18" x2="253.2" y2="245.18" stroke="#000" stroke-width="1.2"/>
<line x1="251" y1="242.21" x2="253.2" y2="242.21" stroke="#000" stroke-width="1.2"/>
<line x1="251" y1="239.25" x2="253.2" y2="239.25" stroke="#000" stroke-width="1.2"/>
<line x1="251" y1="236.28" x2="253.2" y2="236.28" stroke="#000" stroke-width="1.2"/>
<line x1="249.5" y1="233.32" x2="252.1" y2="233.32" stroke="#000" stroke-width="0.8"/>
<text x="248" y="234.12" text-anchor="end" font-size="6.4">90</text>
<line x1="251" y1="230.36" x2="253.2" y2="230.36" stroke="#000" stroke-width="1.2"/>
<line x1="251" y1="227.39" x2="253.2" y2="227.39" stroke="#000" stroke-width="1.2"/>
<line x1="251" y1="224.43" x2="253.2" y2="224.43" stroke="#000" stroke-width="1.2"/>
<line x1="251" y1="221.46" x2="253.2" y2="221.46" stroke="#000" stroke-width="1.2"/>
<line x1="249.5" y1="218.5" x2="252.1" y2="218.5" stroke="#000" stroke-width="0.8"/>
<text x="248" y="219.3" text-anchor="end" font-size="6.4">100</text>
<line x1="266.41" y1="366.4" x2="266.41" y2="369.4" stroke="#000" stroke-width="1"/>
<line x1="274.78" y1="366.4" x2="274.78" y2="369.4" stroke="#000" stroke-width="1"/>
<line x1="280.71" y1="366.4" x2="280.71" y2="369.4" stroke="#000" stroke-width="1"/>
<line x1="285.32" y1="366.4" x2="285.32" y2="369.4" stroke="#000" stroke-width="1"/>
<line x1="289.08" y1="366.4" x2="289.08" y2="369.4" stroke="#000" stroke-width="1"/>
<line x1="292.26" y1="366.4" x2="292.26" y2="369.4" stroke="#000" stroke-width="1"/>
<line x1="295.02" y1="366.4" x2="295.02" y2="369.4" stroke="#000" stroke-width="1"/>
<line x1="297.45" y1="366.4" x2="297.45" y2="369.4" stroke="#000" stroke-width="1"/>
<line x1="313.93" y1="366.4" x2="313.93" y2="369.4" stroke="#000" stroke-width="1"/>
<line x1="322.3" y1="366.4" x2="322.3" y2="369.4" stroke="#000" stroke-width="1"/>
<line x1="328.24" y1="366.4" x2="328.24" y2="369.4" stroke="#000" stroke-width="1"/>
<line x1="332.84" y1="366.4" x2="332.84" y2="369.4" stroke="#000" stroke-width="1"/>
<line x1="336.61" y1="366.4" x2="336.61" y2="369.4" stroke="#000" stroke-width="1"/>
<line x1="339.79" y1="366.4" x2="339.79" y2="369.4" stroke="#000" stroke-width="1"/>
<line x1="342.54" y1="366.4" x2="342.54" y2="369.4" stroke="#000" stroke-width="1"/>
<line x1="344.98" y1="366.4" x2="344.98" y2="369.4" stroke="#000" stroke-width="1"/>
<line x1="361.46" y1="366.4" x2="361.46" y2="369.4" stroke="#000" stroke-width="1"/>
<line x1="369.83" y1="366.4" x2="369.83" y2="369.4" stroke="#000" stroke-width="1"/>
<line x1="375.76" y1="366.4" x2="375.76" y2="369.4" stroke="#000" stroke-width="1"/>
<line x1="380.37" y1="366.4" x2="380.37" y2="369.4" stroke="#000" stroke-width="1"/>
<line x1="384.13" y1="366.4" x2="384.13" y2="369.4" stroke="#000" stroke-width="1"/>
<line x1="387.31" y1="366.4" x2="387.31" y2="369.4" stroke="#000" stroke-width="1"/>
<line x1="390.07" y1="366.4" x2="390.07" y2="369.4" stroke="#000" stroke-width="1"/>
<line x1="392.5" y1="366.4" x2="392.5" y2="369.4" stroke="#000" stroke-width="1"/>
<line x1="408.98" y1="366.4" x2="408.98" y2="369.4" stroke="#000" stroke-width="1"/>
<line x1="417.35" y1="366.4" x2="417.35" y2="369.4" stroke="#000" stroke-width="1"/>
<line x1="423.29" y1="366.4" x2="423.29" y2="369.4" stroke="#000" stroke-width="1"/>
<line x1="427.89" y1="366.4" x2="427.89" y2="369.4" stroke="#000" stroke-width="1"/>
<line x1="431.66" y1="366.4" x2="431.66" y2="369.4" stroke="#000" stroke-width="1"/>
<line x1="434.84" y1="366.4" x2="434.84" y2="369.4" stroke="#000" stroke-width="1"/>
<line x1="437.59" y1="366.4" x2="437.59" y2="369.4" stroke="#000" stroke-width="1"/>
<line x1="440.03" y1="366.4" x2="440.03" y2="369.4" stroke="#000" stroke-width="1"/>
<line x1="252.1" y1="366.4" x2="252.1" y2="371" stroke="#000" stroke-width="1"/>
<text x="251.8" y="377.3" text-anchor="middle" font-size="6.2">10</text>
<text x="255.6" y="375.8" font-size="4.2">2</text>
<line x1="299.62" y1="366.4" x2="299.62" y2="371" stroke="#000" stroke-width="1"/>
<text x="299.32" y="377.3" text-anchor="middle" font-size="6.2">10</text>
<text x="303.12" y="375.8" font-size="4.2">3</text>
<line x1="347.15" y1="366.4" x2="347.15" y2="371" stroke="#000" stroke-width="1"/>
<text x="346.85" y="377.3" text-anchor="middle" font-size="6.2">10</text>
<text x="350.65" y="375.8" font-size="4.2">4</text>
<line x1="394.67" y1="366.4" x2="394.67" y2="371" stroke="#000" stroke-width="1"/>
<text x="394.37" y="377.3" text-anchor="middle" font-size="6.2">10</text>
<text x="398.17" y="375.8" font-size="4.2">5</text>
<line x1="442.2" y1="366.4" x2="442.2" y2="371" stroke="#000" stroke-width="1"/>
<text x="441.9" y="377.3" text-anchor="middle" font-size="6.2">10</text>
<text x="445.7" y="375.8" font-size="4.2">6</text>
<text x="284" y="224" font-size="10.4" class="s" xml:space="preserve">Patient  15</text>
<text x="310.7" y="393.2" font-size="10.4" class="s" font-weight="bold">No. cells injected</text>
<text transform="translate(235.3,324.6) rotate(-90)" class="s" font-size="10.5" font-weight="bold">% Engraftment</text>
<polyline points="151,167.3 165.5,161.3 197.2,101.7 212.7,131.4" fill="none" stroke="#000" stroke-width="1"/>
<rect x="163.05" y="158.35" width="4.9" height="5.9" fill="#000"/>
<rect x="194.75" y="98.75" width="4.9" height="5.9" fill="#000"/>
<rect x="210.25" y="128.45" width="4.9" height="5.9" fill="#000"/>
<circle cx="177.4" cy="158" r="3.3" fill="#fff" stroke="#000" stroke-width="1"/>
<path d="M99.6 102.6 L102.8 108.5 L96.4 108.5Z" fill="#fff" stroke="#000" stroke-width="1.1" stroke-linejoin="miter"/>
<polyline points="358.7,160.5 391.5,146" fill="none" stroke="#000" stroke-width="1"/>
<path d="M358.7 158.2 L361.6 162.5 L355.8 162.5Z" fill="#fff" stroke="#000" stroke-width="1.1" stroke-linejoin="miter"/>
<path d="M391.5 143.8 L394.4 148.5 L388.6 148.5Z" fill="#fff" stroke="#000" stroke-width="1.1" stroke-linejoin="miter"/>
<path d="M424.4 156 L427.9 159.8 L424.4 163.6 L420.9 159.8Z" fill="#000"/>
<rect x="436" y="161.05" width="5" height="5.7" fill="#000"/>
<polyline points="43.1,357.5 91.2,320.8" fill="none" stroke="#000" stroke-width="1"/>
<path d="M43.3 354.5 L46.1 359.5 L40.5 359.5Z" fill="#fff" stroke="#000" stroke-width="1.1" stroke-linejoin="miter"/>
<path d="M91.2 318.1 L94 323.5 L88.4 323.5Z" fill="#fff" stroke="#000" stroke-width="1.1" stroke-linejoin="miter"/>
<path d="M98.1 336.2 L101.4 340 L98.1 343.8 L94.8 340Z" fill="#000"/>
<circle cx="101.9" cy="349.2" r="3.7" fill="#fff" stroke="#000" stroke-width="1"/>
<polyline points="121.7,366.4 153.8,326.3 169.9,273.8 201.8,231.9 213.8,226.5" fill="none" stroke="#000" stroke-width="1"/>
<rect x="151.35" y="323.35" width="4.9" height="5.9" fill="#000"/>
<rect x="167.45" y="270.85" width="4.9" height="5.9" fill="#000"/>
<rect x="199.35" y="228.95" width="4.9" height="5.9" fill="#000"/>
<rect x="211.35" y="223.55" width="4.9" height="5.9" fill="#000"/>
<polyline points="318.5,338.5 326.6,307" fill="none" stroke="#000" stroke-width="1"/>
<path d="M318.5 335.7 L321.2 340.5 L315.8 340.5Z" fill="#fff" stroke="#000" stroke-width="1.1" stroke-linejoin="miter"/>
<path d="M326.6 304.6 L329.3 309.5 L323.9 309.5Z" fill="#fff" stroke="#000" stroke-width="1.1" stroke-linejoin="miter"/>
<circle cx="333.6" cy="326.4" r="3.1" fill="#fff" stroke="#000" stroke-width="1"/>
<path d="M334.1 317.8 L337.3 321.4 L334.1 325 L330.9 321.4Z" fill="#000"/>
<polyline points="381,366.4 427.3,354.1 443.6,329.3" fill="none" stroke="#000" stroke-width="1"/>
<rect x="424.85" y="351.15" width="4.9" height="5.9" fill="#000"/>
<rect x="441.15" y="326.35" width="4.9" height="5.9" fill="#000"/>
<rect x="384" y="1.2" width="7.8" height="7.6" fill="#000"/>
<circle cx="387.7" cy="19.7" r="3.85" fill="#fff" stroke="#000" stroke-width="1"/>
<path d="M387.9 29.8 L392.5 34.7 L387.9 39.6 L383.3 34.7Z" fill="#000"/>
<path d="M387.75 45.2 L391.95 52 L383.55 52Z" fill="#fff" stroke="#000" stroke-width="1" stroke-linejoin="miter"/>
<text x="400.2" y="8.8" font-size="11.8" class="s">Unsorted</text>
<text x="400" y="23.3" font-size="11.8" class="s" letter-spacing="0.12">CD34<tspan font-size="7.5" dy="-3.6">+</tspan><tspan dy="3.6">/CD71</tspan><tspan font-size="7.5" dy="-3.0">-</tspan></text>
<text x="400" y="37.7" font-size="11.8" class="s" letter-spacing="0.05">CD34<tspan font-size="7.5" dy="-3.6">+</tspan><tspan dy="3.6">/HLA-DR</tspan><tspan font-size="7.5" dy="-3.0">-</tspan></text>
<text x="400" y="52.7" font-size="11.8" class="s" letter-spacing="0.14">CD34<tspan font-size="7.5" dy="-3.6">+</tspan><tspan dy="3.6">/CD71</tspan><tspan font-size="7.5" dy="-3.0">-</tspan><tspan dy="3.0">/HLA-DR</tspan><tspan font-size="7.5" dy="-3.0">-</tspan></text>
</svg>
</body></html>
